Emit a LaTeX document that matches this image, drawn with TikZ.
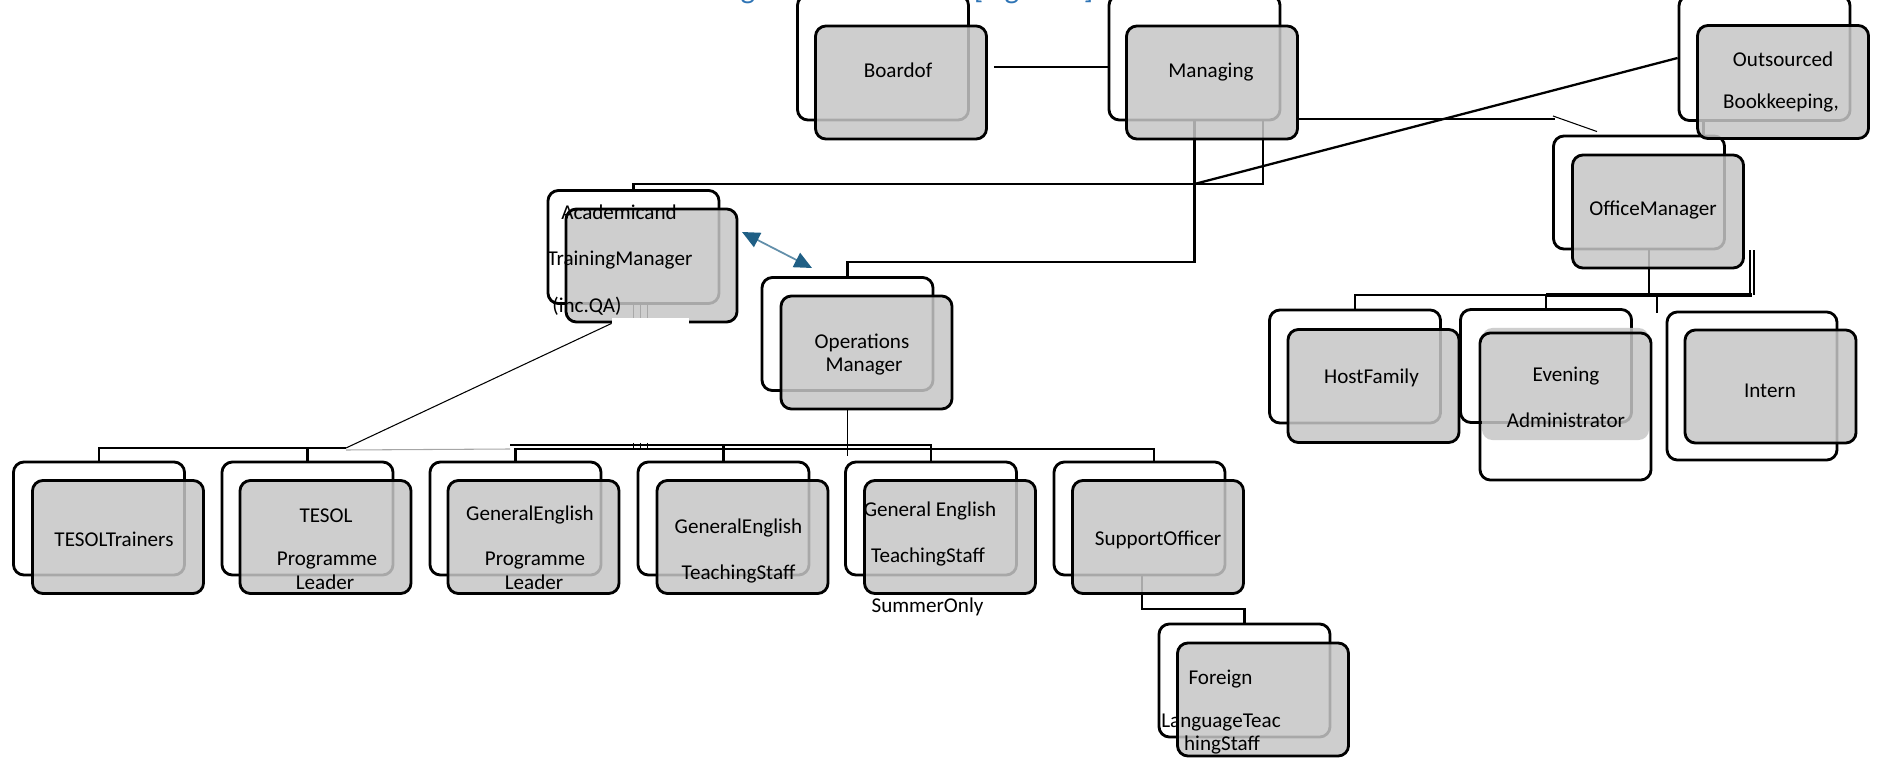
\documentclass[tikz,border=0pt]{standalone}
\usepackage{fontspec}
\setmainfont{Carlito}
\usetikzlibrary{arrows.meta}
\definecolor{boxgray}{RGB}{198,198,198}
\definecolor{headblue}{RGB}{46,116,181}
\definecolor{arrowblue}{RGB}{31,95,133}

\begin{document}
\begin{tikzpicture}[x=0.01cm,y=-0.01cm,
  box/.style={rounded corners=3pt,minimum width=1.71cm,minimum height=1.13cm,inner sep=0pt,line width=0.8pt},
  backbox/.style={box,draw,fill=white},
  tallback/.style={backbox,minimum height=1.25cm},
  frontbox/.style={box,draw,fill=boxgray,fill opacity=0.85},
  lbl/.style={font=\fontsize{6}{7}\selectfont,inner sep=0pt,anchor=base},
  link/.style={line width=0.65pt},
  thinlink/.style={line width=0.3pt}]
  \useasboundingbox (0,0) rectangle (1879,758);
  \clip (0,0) rectangle (1879,758);
  \node[lbl,anchor=base west,text=headblue,font=\fontsize{8.8}{10}\selectfont] (title) at (709,-1.5) {Organisational Chart [Figure 1]};

  \node[tallback] (boardb) at (883,57.5) {};
  \node[tallback] (mgrb) at (1194.5,57.5) {};
  \node[tallback] (outb) at (1764.5,58) {};
  \node[backbox] (officeb) at (1639,192.5) {};
  \node[backbox] (acadb) at (633.5,247) {};
  \node[backbox] (opsb) at (847.5,334) {};
  \node[backbox] (hostb) at (1355,366.5) {};
  \node[backbox] (eveb) at (1546,366) {};
  \node[backbox,minimum width=1.70cm,minimum height=1.48cm] (intb) at (1752,386) {};
  \node[backbox] (trainb) at (99,518.5) {};
  \node[backbox] (tplb) at (307.5,518.5) {};
  \node[backbox] (geplb) at (515.5,518.5) {};
  \node[backbox] (gtsb) at (723.5,518.5) {};
  \node[backbox] (sumb) at (931,518.5) {};
  \node[backbox] (supb) at (1139.5,518.5) {};
  \node[backbox] (foreignb) at (1244.5,680.5) {};

  \coordinate (acl) at (1263,184);
  \coordinate (opl) at (1193,262);
  \coordinate (ofl) at (1649,295);
  \coordinate (tl) at (346,448);
  \coordinate (ul) at (510,445);
  \coordinate (sl) at (1154,449);
  \coordinate (fl) at (1142,609);
  \draw[link] (mgrb.south -| acl) -- (acl) -| (acadb.north);
  \draw[link] (mgrb.south) -- (mgrb.south |- opl) -| (opsb.north);
  \draw[link] (mgrb.south |- acl) -- (outb.west);
  \draw[link] (outb.south west) ++(26,0) -- ++(0,16);
  \draw[link] (officeb.south -| ofl) -- (ofl);
  \draw[link] (hostb.north) |- (intb.north |- ofl);
  \draw[link] (eveb.north) -- (eveb.north |- ofl);
  \draw[line width=1.3pt] (eveb.north |- ofl) -- (intb.north |- ofl);
  \draw[link] (intb.north |- ofl) ++(-2,0) -- ++(0,-45);
  \draw[link] (intb.north |- ofl) ++(2,0) -- ++(0,-45);
  \draw[link] (ofl) ++(8,0) -- ++(0,18);
  \foreach \dx in {0,7,14} \draw[thinlink] (acadb.south) ++(\dx,0) -- ++(0,16);
  \draw[link] (trainb.north) |- (tl);
  \draw[link] (tplb.north) -- (tplb.north |- tl);
  \draw[thinlink,gray!70] (tl) ++(0,2) -- (ul |- sl);
  \draw[link] (geplb.north) |- (sl) -- (sl |- supb.north);
  \draw[link] (ul) -| (sumb.north);
  \draw[link] (gtsb.north) -- (gtsb.north |- ul);
  \foreach \dx in {0,7,14} \draw[thinlink] (acadb.south |- ul) ++(\dx,-2) -- ++(0,6);
  \draw[link] (supb.south -| fl) -- (fl) -| (foreignb.north);

  \node[frontbox] (board) at (901,82.5) {};
  \node[frontbox] (mgr) at (1212,82.5) {};
  \node[frontbox] (out) at (1783,82) {};
  \node[frontbox] (office) at (1658,211.5) {};
  \node[frontbox] (acad) at (651.5,265.5) {};
  \node[frontbox] (ops) at (866.5,352.5) {};
  \node[frontbox] (host) at (1373.5,386) {};
  \node[box,fill=boxgray,fill opacity=0.85,minimum width=1.67cm,minimum height=1.12cm] (evefill) at (1565.5,384) {};
  \node[box,draw,minimum height=1.47cm] (eve) at (1565.5,406.5) {};
  \node[frontbox] (int) at (1770.5,386.5) {};
  \node[frontbox] (train) at (118,537) {};
  \node[frontbox] (tpl) at (325.5,537) {};
  \node[frontbox] (gepl) at (533.5,537) {};
  \node[frontbox] (gts) at (742.5,537) {};
  \node[frontbox] (sum) at (950,537) {};
  \node[frontbox] (sup) at (1158,537) {};
  \node[frontbox] (foreign) at (1263,699.5) {};

  \coordinate (bm) at (0,67);
  \coordinate (ofk) at (1555,119);
  \coordinate (arra) at (742,232);
  \coordinate (arrb) at (812,268);
  \fill[white] ([shift={(47,-5)}]acad.south west) rectangle ([shift={(124,4)}]acad.south west);
  \draw[thinlink] (acad.south west) ++(47,0) -- (tl);
  \draw[link] (board.east |- bm) ++(6,0) -- (mgrb.west |- bm);
  \draw[link] (mgr.east |- ofk) -- (ofk);
  \draw[thinlink] (ofk) ++(-2,-3) -- ([shift={(-42,-3)}]officeb.north);
  \draw[thinlink] (opsb.south |- ops.south) -- ([yshift=-3]opsb.south |- ul);
  \draw[arrowblue!70,line width=0.5pt,{Triangle[length=5pt,width=4.5pt,color=arrowblue]}-{Triangle[length=5pt,width=4.5pt,color=arrowblue]}] (arra) -- (arrb);

  \node[lbl] (t-board) at (898,78) {Boardof};
  \node[lbl] (t-mgr) at (1211,78) {Managing};
  \node[lbl] (t-out1) at (1783,67) {Outsourced};
  \node[lbl] (t-out2) at (1781,109) {Bookkeeping,};
  \node[lbl] (t-office) at (1653,216) {OfficeManager};
  \node[lbl] (t-acad1) at (619,220) {Academicand};
  \node[lbl] (t-acad2) at (620,266) {TrainingManager};
  \node[lbl] (t-acad3) at (587,313) {(inc.QA)};
  \node[lbl] (t-ops1) at (862,349) {Operations};
  \node[lbl] (t-ops2) at (864,372) {Manager};
  \node[lbl] (t-host) at (1371.5,384) {HostFamily};
  \node[lbl] (t-eve1) at (1566,382) {Evening};
  \node[lbl] (t-eve2) at (1566,427) {Administrator};
  \node[lbl] (t-int) at (1770,397) {Intern};
  \node[lbl] (t-train) at (114,546) {TESOLTrainers};
  \node[lbl] (t-tpl1) at (326,522) {TESOL};
  \node[lbl] (t-tpl2) at (327,565) {Programme};
  \node[lbl] (t-tpl3) at (325,589) {Leader};
  \node[lbl] (t-gepl1) at (530,520) {GeneralEnglish};
  \node[lbl] (t-gepl2) at (535,565) {Programme};
  \node[lbl] (t-gepl3) at (534,589) {Leader};
  \node[lbl] (t-gts1) at (738.5,534) {GeneralEnglish};
  \node[lbl] (t-gts2) at (738.5,579) {TeachingStaff};
  \node[lbl] (t-sum1) at (930,516) {General English};
  \node[lbl] (t-sum2) at (928,562) {TeachingStaff};
  \node[lbl] (t-sum3) at (927.5,612) {SummerOnly};
  \node[lbl] (t-sup) at (1158,545) {SupportOfficer};
  \node[lbl] (t-for1) at (1220.5,684) {Foreign};
  \node[lbl] (t-for2) at (1221,727) {LanguageTeac};
  \node[lbl] (t-for3) at (1222,750) {hingStaff};
\end{tikzpicture}
\end{document}
